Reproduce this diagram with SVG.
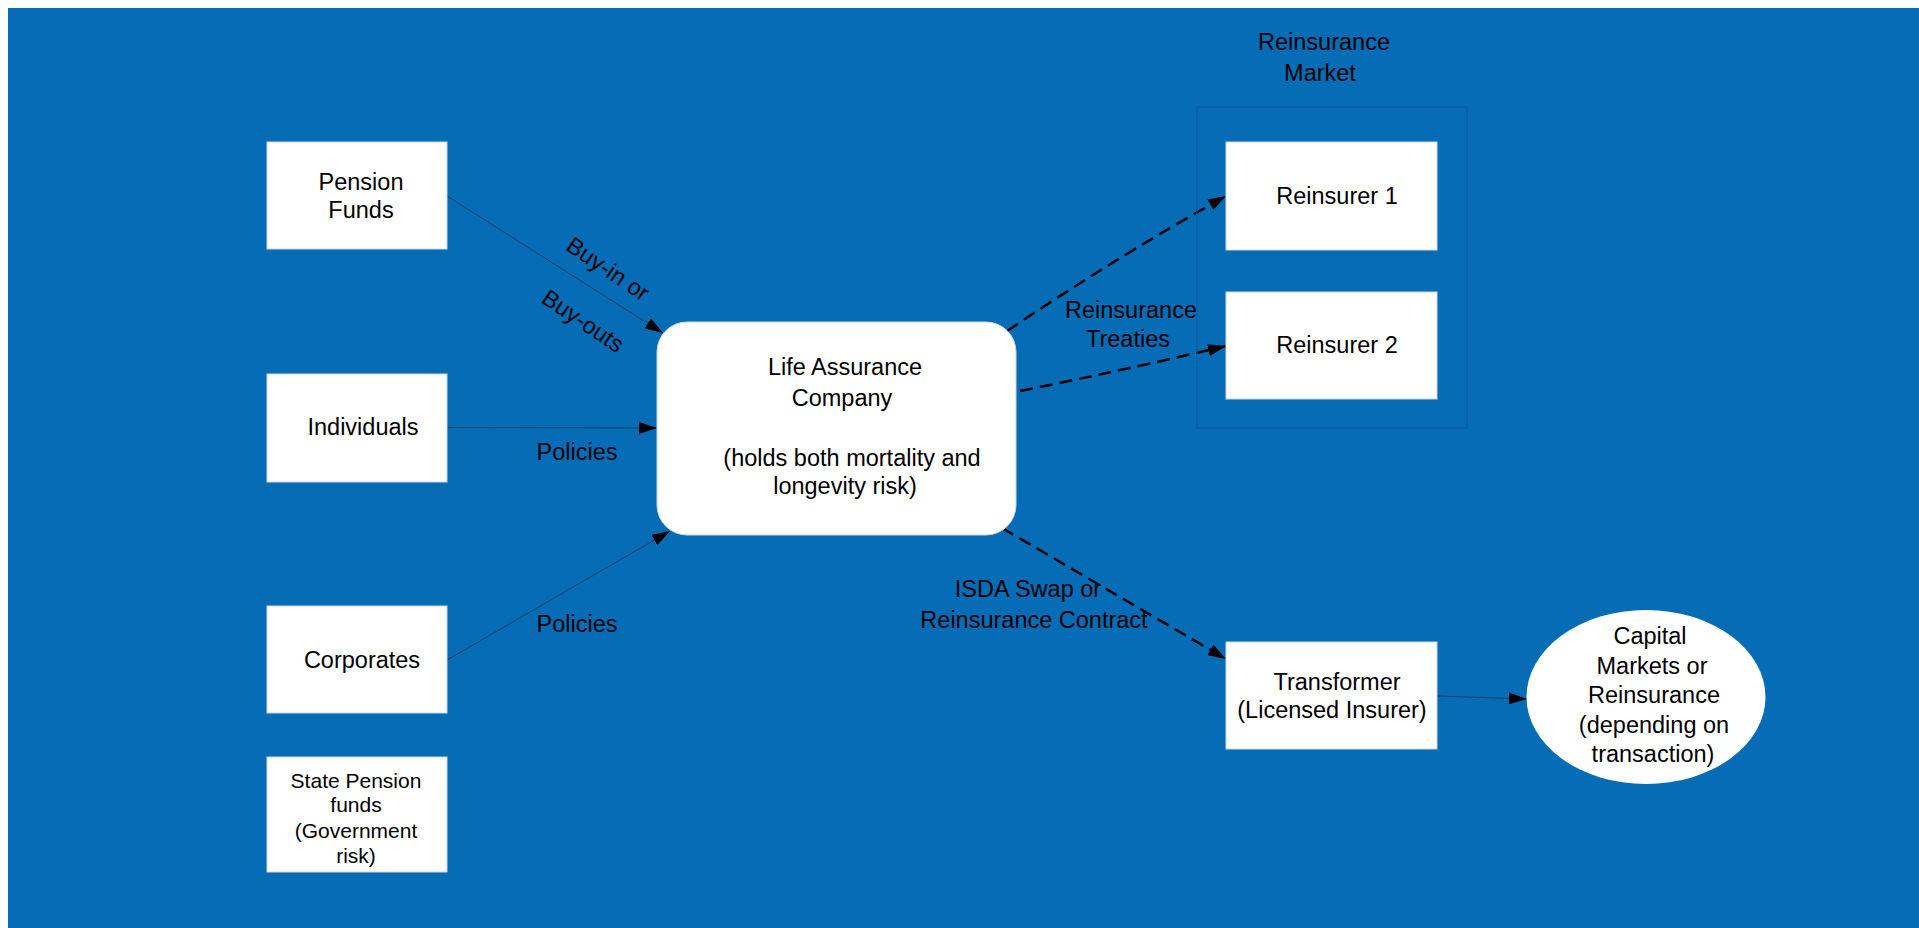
<svg xmlns="http://www.w3.org/2000/svg" width="1919" height="928" viewBox="0 0 1919 928">
  <defs>
    <style>
      .bg { fill: #066cb6; }
      .box { fill: #ffffff; stroke: #d4d4d4; stroke-width: 1; }
      .frame { fill: none; stroke: #0b5c9e; stroke-width: 1.2; }
      .t { font-family: "Liberation Sans", Arial, sans-serif; font-size: 23.5px; fill: #000000; text-anchor: middle; }
      .ts { font-family: "Liberation Sans", Arial, sans-serif; font-size: 21px; fill: #000000; text-anchor: middle; }
      .thin { fill: none; stroke: #143d6b; stroke-width: 1; }
      .dash { fill: none; stroke: #000000; stroke-width: 2.5; stroke-dasharray: 13 7; }
    </style>
    <marker id="arrow" viewBox="0 0 18 12" refX="18" refY="6" markerWidth="18" markerHeight="12" markerUnits="userSpaceOnUse" orient="auto">
      <path d="M0,0 L18,6 L0,12 Z" fill="#000000"/>
    </marker>
  </defs>

  <!-- backdrop -->
  <rect class="bg" x="8" y="8" width="1911" height="920"/>

  <!-- connectors -->
  <g id="connectors">
    <line class="thin" x1="447" y1="196" x2="663" y2="333" marker-end="url(#arrow)"/>
    <line class="thin" x1="447" y1="427.5" x2="657" y2="428" marker-end="url(#arrow)"/>
    <line class="thin" x1="447" y1="660" x2="670" y2="531" marker-end="url(#arrow)"/>
    <path class="dash" d="M1007,331 Q1120,255 1226,196" marker-end="url(#arrow)"/>
    <path class="dash" d="M1020,391 Q1125,370 1226,346" marker-end="url(#arrow)"/>
    <line class="dash" x1="1002" y1="528" x2="1226" y2="659" marker-end="url(#arrow)"/>
    <line class="thin" x1="1437" y1="696" x2="1527" y2="699" marker-end="url(#arrow)"/>

    <text class="t" transform="translate(608,269) rotate(34)" x="0" y="8">Buy-in or</text>
    <text class="t" transform="translate(583,321) rotate(34)" x="0" y="8">Buy-outs</text>
    <text class="t" x="577" y="460">Policies</text>
    <text class="t" x="577" y="632">Policies</text>
    <text class="t" x="1131" y="318">Reinsurance</text>
    <text class="t" x="1128" y="347">Treaties</text>
    <text class="t" x="1028" y="597">ISDA Swap or</text>
    <text class="t" x="1034" y="628">Reinsurance Contract</text>
  </g>

  <!-- reinsurance market grouping -->
  <g id="reinsurance-market">
    <rect class="frame" x="1197" y="107" width="270" height="321"/>
    <text class="t" x="1324" y="50">Reinsurance</text>
    <text class="t" x="1320" y="81">Market</text>
  </g>

  <g id="pension-funds">
    <rect class="box" x="267" y="142" width="180" height="107"/>
    <text class="t" x="361" y="190">Pension</text>
    <text class="t" x="361" y="218">Funds</text>
  </g>

  <g id="individuals">
    <rect class="box" x="267" y="374" width="180" height="108"/>
    <text class="t" x="363" y="435">Individuals</text>
  </g>

  <g id="corporates">
    <rect class="box" x="267" y="606" width="180" height="107"/>
    <text class="t" x="362" y="668">Corporates</text>
  </g>

  <g id="state-pension-funds">
    <rect class="box" x="267" y="757" width="180" height="115"/>
    <text class="ts" x="356" y="788">State Pension</text>
    <text class="ts" x="356" y="812">funds</text>
    <text class="ts" x="356" y="838">(Government</text>
    <text class="ts" x="356" y="863">risk)</text>
  </g>

  <g id="life-assurance-company">
    <rect class="box" x="657" y="322" width="359" height="213" rx="30" ry="30"/>
    <text class="t" x="845" y="375">Life Assurance</text>
    <text class="t" x="842" y="406">Company</text>
    <text class="t" x="852" y="466">(holds both mortality and</text>
    <text class="t" x="845" y="494">longevity risk)</text>
  </g>

  <g id="reinsurer-1">
    <rect class="box" x="1226" y="142" width="211" height="108"/>
    <text class="t" x="1337" y="204">Reinsurer 1</text>
  </g>

  <g id="reinsurer-2">
    <rect class="box" x="1226" y="292" width="211" height="107"/>
    <text class="t" x="1337" y="353">Reinsurer 2</text>
  </g>

  <g id="transformer">
    <rect class="box" x="1226" y="642" width="211" height="107"/>
    <text class="t" x="1337" y="690">Transformer</text>
    <text class="t" x="1332" y="718">(Licensed Insurer)</text>
  </g>

  <g id="capital-markets">
    <ellipse cx="1646" cy="697" rx="119.5" ry="87" fill="#ffffff"/>
    <text class="t" x="1650" y="644">Capital</text>
    <text class="t" x="1652" y="674">Markets or</text>
    <text class="t" x="1654" y="703">Reinsurance</text>
    <text class="t" x="1654" y="733">(depending on</text>
    <text class="t" x="1653" y="762">transaction)</text>
  </g>
</svg>
